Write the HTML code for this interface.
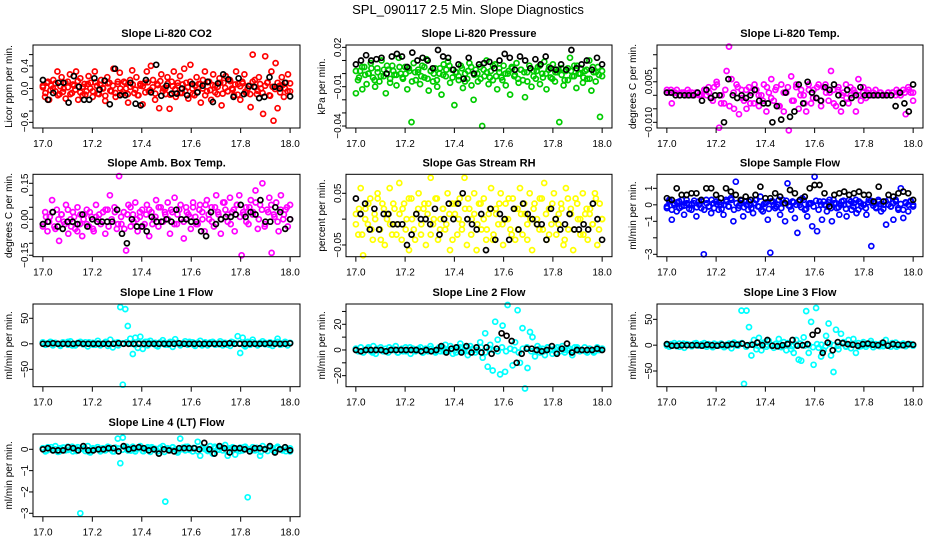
<!DOCTYPE html>
<html><head><meta charset="utf-8"><style>
html,body{margin:0;padding:0;background:#fff;}
svg{display:block;font-family:"Liberation Sans",Arial,sans-serif;}
</style></head><body>
<svg id="chart" width="936" height="540" viewBox="0 0 936 540">
<rect width="936" height="540" fill="#fff"/>
<text x="468" y="14" text-anchor="middle" font-size="13">SPL_090117  2.5 Min. Slope Diagnostics</text>
</svg>
<script>
const xTicks=[17.0,17.2,17.4,17.6,17.8,18.0];
const xTickLabels=["17.0","17.2","17.4","17.6","17.8","18.0"];
const tStart=17.0, tEnd=18.0;

const co2Vals=[0.02,-0.15,0.1,-0.2,0.05,0.15,-0.05,0.3,-0.1,0.2,0.0,-0.18,0.12,0.25,-0.08,0.05,0.3,-0.2,0.18,-0.12,0.08,-0.05,0.22,0.1,-0.15,0.3,0.05,-0.1,0.15,0.0,-0.22,0.2,0.1,-0.05,0.35,-0.15,0.08,0.28,-0.1,0.12,0.0,-0.25,0.15,0.32,-0.08,0.2,-0.12,0.05,-0.28,0.1,0.3,-0.05,0.4,0.15,-0.2,0.08,-0.35,0.25,0.0,-0.1,0.2,-0.36,0.12,0.3,-0.15,0.05,0.22,-0.08,0.35,0.1,-0.18,0.42,0.0,-0.12,0.2,0.08,-0.25,0.15,0.3,-0.05,0.12,-0.2,0.25,0.05,-0.1,0.18,-0.3,0.1,0.22,-0.05,0.15,0.0,-0.12,0.3,0.08,-0.2,0.12,0.25,-0.08,0.05,-0.33,0.6,0.15,-0.1,0.2,0.0,-0.45,0.57,0.1,-0.12,0.3,-0.57,0.45,-0.35,0.05,0.2,-0.15,0.1,0.25,-0.05];
const co2Band=[0.05,-0.08,0.12,-0.03,0.0,0.09,-0.12,0.04,-0.06,0.1,0.02,-0.1,0.07,-0.02,0.13,-0.07,0.03,-0.11,0.08,0.0,-0.05,0.11,-0.09,0.06,0.01,-0.13,0.09,-0.04,0.05,-0.08,0.12,0.0,-0.06,0.1,-0.1,0.03,0.07,-0.02,-0.12,0.08,0.04,-0.07,0.11,-0.03,0.02,-0.09,0.06,0.13,-0.05,0.0,0.09,-0.11,0.04,-0.01,0.1,-0.08,0.07,-0.04,0.02,0.12,-0.1,0.05,-0.06,0.08,0.0,-0.12,0.11,-0.03,0.06,-0.07,0.03,0.1,-0.09,0.01,-0.05,0.13,-0.02,0.07,-0.11,0.04,0.09,-0.06,0.0,-0.1,0.12,0.02,-0.04,0.08,-0.08,0.05,0.11,-0.13,0.03,-0.01,0.1,-0.07,0.06,0.0,-0.05,0.09];
const co2Black=[0.15,-0.2,-0.08,0.1,0.1,-0.25,0.22,0.03,-0.2,-0.2,0.18,-0.02,0.14,-0.28,0.35,-0.12,-0.12,0.1,-0.27,-0.3,0.15,-0.07,0.42,-0.13,0.05,-0.09,-0.09,0.0,-0.12,0.08,-0.07,0.05,0.12,-0.24,0.09,0.25,0.16,-0.15,0.18,-0.1,0.04,0.03,-0.17,-0.15,0.2,0.03,0.0,0.1,-0.14];
const presVals=[-0.015,-0.005,0.002,-0.012,0.005,-0.008,0.0,0.008,-0.003,-0.01,0.004,-0.006,0.01,-0.002,-0.015,0.003,-0.007,0.006,-0.001,-0.009,0.012,0.0,-0.004,0.005,-0.012,0.002,-0.037,0.008,-0.005,0.001,-0.008,0.006,-0.003,0.011,-0.013,0.002,-0.006,0.004,-0.01,0.0,-0.016,0.007,-0.002,0.009,-0.007,0.003,-0.024,0.001,-0.005,0.006,-0.011,0.0,-0.004,0.008,-0.009,-0.02,0.003,-0.006,0.005,-0.04,-0.002,0.01,-0.008,0.002,-0.005,0.007,-0.012,0.001,-0.003,0.006,-0.009,0.0,-0.016,0.004,-0.002,0.008,-0.007,0.003,-0.005,-0.018,0.001,0.006,-0.01,0.002,-0.004,0.005,-0.008,0.0,0.009,-0.012,0.003,-0.003,0.007,-0.006,0.001,-0.037,0.004,-0.009,0.002,-0.005,0.012,-0.002,0.006,-0.011,0.0,0.004,-0.007,0.002,-0.004,0.01,-0.013,0.001,-0.006,0.005,-0.033,-0.002];
const presBand=[0.002,-0.003,0.005,-0.001,0.0,0.004,-0.005,0.001,-0.002,0.003,0.006,-0.004,0.002,-0.001,0.005,-0.003,0.0,0.004,-0.006,0.001,0.003,-0.002,0.005,-0.004,0.002,0.0,-0.005,0.004,-0.001,0.003,0.006,-0.003,0.001,-0.002,0.004,-0.006,0.002,0.005,-0.001,0.0,-0.004,0.003,0.001,-0.003,0.006,-0.002,0.004,-0.005,0.0,0.002,0.005,-0.001,-0.004,0.003,0.001,-0.006,0.004,-0.002,0.002,0.006,-0.003,0.0,0.005,-0.004,0.001,0.003,-0.001,-0.005,0.004,0.002,-0.002,0.006,0.0,-0.003,0.003,-0.004,0.005,0.001,-0.001,0.002];
const presBlack=[0.007,0.01,0.014,0.01,0.011,0.012,0.0,0.013,0.015,0.013,0.005,0.016,0.01,0.012,0.01,0.004,0.018,0.013,0.012,0.003,0.007,-0.004,0.012,0.0,0.007,0.008,0.009,0.004,0.01,0.015,0.012,0.003,0.013,0.01,0.004,0.011,0.007,0.013,0.004,0.003,0.007,0.003,0.018,0.004,0.007,0.01,0.003,0.012,0.007];
const tempVals=[0.002,0.001,-0.003,0.001,0.002,0.0,0.001,0.001,0.0,0.001,0.0,0.0,0.001,0.0,0.0,0.002,0.0,0.001,-0.001,0.003,0.005,-0.012,0.0,-0.003,0.009,0.018,0.006,-0.005,0.004,-0.007,0.002,-0.002,-0.005,0.003,0.001,-0.003,0.002,-0.004,0.0,0.004,-0.006,0.001,0.006,-0.002,0.003,-0.004,0.004,-0.006,0.001,-0.013,0.007,-0.002,0.003,-0.005,0.002,0.0,-0.006,0.004,-0.003,0.002,-0.001,0.004,-0.004,0.003,0.001,-0.002,0.009,0.002,-0.004,0.003,-0.006,0.001,0.004,-0.003,0.0,0.002,-0.006,0.006,-0.002,0.003,-0.001,0.002,0.0,0.001,0.0,0.0,0.001,0.0,0.0,0.001,0.0,0.001,0.0,0.001,0.0,0.002,-0.007,0.003,0.001,-0.002];
const tempBand=[0.001,0.002,0.001,0.0,0.001,0.002,0.001,0.001,0.0,0.002,0.003,-0.002,0.004,-0.003,0.002,-0.004,0.001,0.003,-0.001,0.002,-0.003,0.004,0.0,-0.002,0.003,-0.001,0.002,-0.004,0.001,0.003,-0.002,0.004,0.0,-0.003,0.002,-0.001,0.003,-0.002,0.004,0.001,-0.003,0.002,0.0,-0.001,0.003,0.001,0.0,0.001,0.001,0.0,0.002,0.001,0.0,0.001,0.001,0.002,0.0,0.001,0.002,0.001];
const tempBlack=[0.001,0.001,0.0,0.0,0.0,0.0,0.0,0.001,-0.002,0.002,-0.001,0.0,0.0,-0.01,0.006,0.0,-0.001,0.0,-0.001,0.0,0.002,-0.002,-0.003,-0.003,-0.01,-0.004,-0.009,0.001,-0.008,-0.006,0.004,-0.003,0.005,0.001,-0.001,-0.002,0.003,0.002,0.004,0.0,-0.003,0.002,-0.001,0.0,0.003,0.0,0.0,0.0,0.0,0.0,0.0,0.0,-0.004,0.001,-0.003,-0.006,0.004];
const ambVals=[-0.02,0.03,-0.05,0.01,0.08,-0.03,0.04,-0.09,0.02,-0.01,0.06,-0.06,0.0,0.03,-0.04,0.05,-0.02,-0.07,0.02,0.04,-0.03,0.01,-0.05,0.06,0.0,-0.02,0.03,-0.06,0.04,0.1,-0.01,0.05,-0.04,0.18,-0.02,0.03,-0.13,0.06,-0.03,0.02,0.07,-0.05,0.01,0.04,-0.02,0.06,-0.07,0.03,0.0,0.08,-0.03,0.05,-0.01,0.02,0.07,-0.06,0.03,0.09,-0.02,0.04,0.0,-0.08,0.05,0.02,-0.04,0.07,0.01,-0.02,0.06,0.03,-0.05,0.08,0.0,0.05,-0.03,0.1,0.02,-0.06,0.07,0.04,-0.01,0.09,0.03,-0.05,0.06,0.1,-0.15,0.02,0.05,-0.02,0.08,0.03,0.12,-0.04,0.06,0.15,-0.03,0.04,0.09,-0.14,0.02,0.07,-0.05,0.1,0.0,0.04,-0.03,0.06];
const ambBand=[-0.03,0.01,-0.01,0.03,-0.04,0.0,0.02,-0.02,0.04,-0.03,0.01,-0.05,0.02,0.0,-0.02,0.03,-0.04,0.01,0.02,-0.01,0.04,-0.03,0.0,0.03,-0.02,0.01,-0.04,0.02,0.05,-0.01,0.0,0.03,-0.03,0.02,0.04,-0.02,0.01,0.05,-0.01,0.03,0.0,0.04,-0.02,0.02,0.06,-0.01,0.03,0.01,0.05,-0.02,0.04,0.0,0.06,0.02,-0.01,0.05,0.03,0.0,0.07,0.02,-0.02,0.04,0.06,0.01,0.03,-0.01,0.05,0.02,0.07,0.0,0.04,-0.02,0.03,0.06,0.01,-0.01,0.04,0.02,0.05,0.0];
const ambBlack=[-0.02,-0.01,0.03,-0.03,-0.04,-0.01,-0.01,-0.02,0.02,-0.03,0.0,-0.01,-0.01,-0.01,-0.01,0.04,-0.06,-0.1,0.0,-0.03,-0.03,-0.05,0.01,-0.01,-0.01,0.0,-0.01,0.04,0.0,0.0,-0.01,-0.01,-0.05,-0.07,0.03,-0.02,0.0,0.01,0.01,0.02,0.06,0.01,0.03,0.02,0.08,-0.01,-0.01,0.05,0.03,-0.04,0.0];
const rhVals=[0.01,-0.03,0.06,-0.07,0.02,-0.01,0.04,-0.04,0.0,0.05,-0.02,0.03,-0.05,0.01,0.06,-0.03,0.02,-0.01,0.07,-0.04,0.03,0.0,-0.06,0.04,-0.02,0.01,0.05,-0.03,0.02,-0.05,0.03,0.08,-0.01,0.04,-0.04,0.0,0.02,-0.02,0.05,-0.06,0.03,0.01,-0.03,0.04,-0.01,0.08,-0.05,0.02,0.0,0.05,-0.06,0.03,-0.02,0.04,-0.04,0.01,0.06,-0.03,0.02,-0.01,0.05,-0.05,0.03,0.0,-0.02,0.04,-0.04,0.02,0.06,-0.03,0.01,-0.01,0.05,-0.06,0.03,0.0,-0.02,0.04,0.07,-0.04,0.02,-0.01,0.05,-0.03,0.01,0.03,-0.05,0.06,-0.02,0.02,-0.06,0.04,0.0,-0.03,0.05,0.01,-0.04,0.02,-0.01,0.05,-0.05,0.03,0.0];
const rhBand=[-0.01,0.02,-0.03,0.0,0.03,-0.02,0.01,0.04,-0.04,0.02,0.0,-0.01,0.03,-0.03,0.01,0.02,-0.02,0.04,0.0,-0.04,0.02,-0.01,0.03,0.01,-0.03,0.0,0.04,-0.02,0.02,-0.01,0.01,-0.04,0.03,0.0,-0.02,0.02,0.04,-0.03,0.01,-0.01,0.03,0.0,-0.02,0.02,-0.04,0.01,0.03,-0.01,0.0,0.04,-0.03,0.02,-0.02,0.01,0.03,-0.04,0.0,0.02,-0.01,0.04,-0.02,0.01,-0.03,0.03,0.0,-0.01,0.02,-0.04,0.04,0.01,-0.02,0.03,0.0,-0.03,0.02,0.01,-0.01,0.04,-0.02,0.0];
const rhBlack=[0.04,0.01,0.03,-0.02,0.02,-0.02,0.01,0.01,-0.01,-0.01,-0.01,-0.05,-0.03,0.01,0.0,0.0,-0.01,0.02,-0.03,0.0,0.03,0.0,0.03,0.05,0.0,-0.01,-0.02,0.01,-0.06,0.02,-0.04,0.01,0.0,-0.04,0.02,-0.02,0.03,0.01,0.0,-0.01,-0.01,-0.04,0.02,0.0,-0.02,-0.01,0.01,-0.02,-0.02,-0.01,-0.02,0.03,0.0,-0.04];
const sflowVals=[-0.2,0.3,-0.9,0.1,-0.4,0.2,-0.1,-0.6,0.3,0.0,-0.3,0.1,-0.7,0.2,-0.2,-3.0,0.3,-0.1,-0.5,0.1,0.2,-0.3,0.0,-0.6,0.3,-0.1,0.4,-1.0,1.4,-0.2,0.1,-0.7,0.2,-0.3,0.0,-0.5,0.3,-0.1,0.5,-0.4,0.1,-0.9,-2.9,0.2,-0.2,0.0,-0.6,0.3,-1.0,1.3,-0.1,0.2,-0.8,-1.7,0.0,0.4,-0.3,-0.7,0.1,-1.3,1.7,-1.6,0.2,-0.9,0.0,-0.4,0.3,-1.0,0.1,-0.2,-0.6,0.2,0.0,-0.7,0.3,-0.3,0.1,-0.5,0.2,-0.1,0.0,-0.6,0.3,-2.5,0.1,-0.2,0.2,-0.4,0.0,-1.2,0.3,-0.1,-0.9,0.2,-0.3,1.0,-0.8,0.1,-0.4,0.2,0.0];
const sflowBand=[-0.1,0.2,-0.3,0.0,0.15,-0.2,0.3,-0.05,0.1,-0.25,0.05,0.25,-0.15,0.0,0.2,-0.3,0.1,-0.1,0.3,-0.2,0.05,0.15,-0.25,0.0,0.2,-0.1,0.3,-0.3,0.1,-0.05,0.25,-0.15,0.0,0.2,-0.2,0.1,0.3,-0.1,-0.3,0.05,0.15,-0.25,0.2,0.0,-0.1,0.3,-0.2,0.1,0.25,-0.05,-0.3,0.15,0.0,0.2,-0.15,0.3,-0.25,0.05,0.1,-0.1,0.25,-0.3,0.0,0.2,-0.05,0.15,-0.2,0.3,0.1,-0.15,0.0,0.25,-0.25,0.05,0.2,-0.1,0.3,-0.3,0.1,0.0,-0.2,0.15,0.25,-0.05,-0.15,0.3,0.05,-0.25,0.2,0.0,-0.1,0.1,0.3,-0.2,0.05,-0.3,0.15,0.0,0.25,-0.1];
const sflowBlack=[0.4,0.3,1.0,0.6,0.6,0.7,0.7,0.3,1.0,1.0,0.6,0.4,1.0,0.8,0.6,0.3,0.5,0.3,0.6,1.1,0.4,0.4,0.7,0.5,0.1,0.9,0.7,0.3,0.5,1.0,1.2,1.2,0.7,-0.1,0.6,0.7,0.8,0.6,0.7,0.8,0.6,0.6,0.2,1.1,0.2,0.6,0.5,0.7,0.8,0.7,0.3];
const l1Vals=[3,-2,1,4,-3,2,0,-4,3,1,-2,5,0,-3,2,4,-1,3,-5,1,2,-2,6,-3,0,2,-4,8,-7,1,3,72,-80,68,35,10,-20,12,-8,14,-10,4,-3,6,0,2,-5,3,7,-2,1,4,-6,9,2,-3,1,5,-2,0,3,-4,2,6,-1,3,-3,0,4,-2,1,5,-3,2,0,-4,3,1,15,-18,12,-5,4,-2,8,1,-3,2,5,-1,0,3,-4,2,10,-2,1,4,-3,2];
const l1Band=[2,-1,3,0,-2,1,4,-3,0,2,-1,3,-2,1,0,4,-1,2,-3,1,3,0,-2,2,-1,4,1,-3,0,2,-2,3,1,-1,0,4,-2,2,-3,1,3,0,-1,2,-2,4,0,1,-3,2,3,-1,0,2,-2,1,4,-1,0,2];
const l1Black=[0,0,1,0,0,0,0,1,0,0,0,0,0,0,0,1,0,0,0,0,0,0,0,0,0,0,0,1,0,0,0,0,0,0,0,0,0,1,0,0,0,0,0,0,0,1,0,0,0,1];
const l2Vals=[1,-1,2,-2,0,1,-1,3,-3,0,2,-1,1,-2,0,1,3,-2,0,-1,2,0,-3,1,-1,0,2,-2,1,-1,3,0,-2,1,-1,2,4,-1,3,-3,0,2,5,-1,2,-4,3,1,-2,0,6,-6,13,-13,4,-16,22,8,-19,19,-17,35,1,-12,6,31,-10,17,-30,-14,14,10,-5,3,-2,1,-4,2,0,-3,1,2,-1,3,-2,0,1,-4,2,1,-1,0,2,-2,1,0,-1,2,0,1];
const l2Band=[1,-1,0,2,-2,1,0,-1,2,0,-2,1,-1,2,0,1,-2,0,1,-1,2,-1,0,1,-2,2,0,-1,1,0,2,-2,1,0,-1,2,-1,1,0,-2,1,2,-1,0,1,-1,2,0,-2,1,0,1,-1,2,0,-1,1,-2,0,1];
const l2Black=[0,-1,0,0,0,0,-1,0,0,0,0,0,0,-1,0,-1,0,3,-2,1,2,-2,3,-2,2,-2,2,-3,1,13,11,7,-10,-3,1,1,0,-1,0,3,-3,1,5,-2,0,0,0,0,1,0];
const l3Vals=[2,-3,1,4,-2,3,0,-5,2,1,-2,3,0,-1,2,4,-3,1,-2,3,0,-1,2,-4,1,3,-6,5,0,2,67,-75,67,35,-20,10,-8,14,-10,5,-3,8,0,-5,3,12,-4,6,-10,2,-8,-15,10,-28,-30,15,66,-15,45,-38,72,-5,-22,-10,18,42,-20,-52,30,-8,22,6,-3,10,-6,12,-15,4,-2,6,-3,1,8,-4,2,0,3,-2,10,1,-3,2,5,-1,0,3,-2,1,2,-1];
const l3Band=[-1,2,0,-3,3,1,-2,4,0,-1,2,-4,1,3,-2,0,2,-1,4,-3,1,0,-2,3,1,-1,2,-3,0,4,-2,1,3,-1,0,-4,2,1,-2,3,0,-1,4,-2,1,2,-3,0,1,3,-1,-2,2,0,4,-3,1,-1,2,0];
const l3Black=[2,-1,-1,0,0,0,0,-1,1,0,-1,1,0,2,1,3,0,1,5,0,10,-1,-2,0,2,10,-1,0,2,20,28,-15,5,-10,6,4,2,1,-1,2,3,1,0,5,-1,2,1,0,2,1];
const l4Vals=[0.05,-0.1,0.1,0.0,-0.05,0.15,-0.12,0.05,0.08,-0.05,0.12,0.0,-0.1,0.05,0.1,-3.0,0.02,-0.08,0.15,-0.15,0.05,0.0,0.1,-0.1,0.05,-0.05,0.12,0.0,-0.1,0.08,0.5,-0.65,0.55,0.1,-0.05,0.0,0.12,-0.1,0.05,0.15,-0.08,0.0,0.1,-0.12,0.05,0.02,-0.1,0.08,0.15,-2.45,0.05,-0.05,0.1,0.0,-0.15,0.5,0.08,-0.05,0.12,0.0,-0.1,0.05,0.35,-0.3,0.1,0.0,-0.08,0.15,-0.2,0.05,0.0,0.1,-0.05,0.2,-0.3,0.05,0.1,-0.25,0.0,0.08,-0.05,0.12,-2.25,0.0,0.1,-0.05,0.05,-0.3,0.15,0.0,-0.08,0.1,0.05,-0.1,0.12,0.0,-0.05,0.08,0.02,-0.1];
const l4Band=[0.05,-0.05,0.1,0.0,-0.1,0.08,-0.03,0.12,-0.08,0.02,0.06,-0.12,0.03,0.1,-0.05,0.0,0.08,-0.1,0.04,-0.02,0.12,-0.06,0.0,0.07,-0.09,0.03,0.1,-0.04,0.05,-0.12,0.02,0.09,-0.07,0.0,0.11,-0.03,0.06,-0.1,0.04,0.0,-0.06,0.12,-0.02,0.08,-0.11,0.03,0.05,-0.08,0.1,0.0,-0.04,0.07,-0.12,0.02,0.09,-0.05,0.06,0.0,-0.09,0.04];
const l4Black=[0.0,0.05,-0.05,-0.05,-0.05,0.1,0.05,-0.05,0.15,-0.05,-0.05,0.0,0.0,0.05,0.05,-0.1,0.15,0.0,0.05,0.1,0.05,-0.05,0.0,-0.2,0.0,-0.05,-0.1,0.05,0.05,0.05,0.05,0.0,0.3,0.0,-0.2,0.15,0.05,-0.15,0.05,0.05,0.0,-0.1,0.05,0.05,0.0,0.15,-0.15,0.0,0.1,-0.05];

const panels=[
 {name:"co2",title:"Slope Li-820 CO2",ylab:"Licor ppm per min.",col:0,row:0,color:"#ff0000",vals:co2Vals,band:co2Band,black:co2Black,ylim:[-0.70,0.77],ticks:[-0.6,-0.4,-0.2,0,0.2,0.4,0.6],labels:{"-0.6":"\u22120.6","0":"0.0","0.4":"0.4"}},
 {name:"pressure",title:"Slope Li-820 Pressure",ylab:"kPa per min.",col:1,row:0,color:"#00cc00",vals:presVals,band:presBand,black:presBlack,ylim:[-0.0415,0.0218],ticks:[-0.04,-0.03,-0.02,-0.01,0,0.01,0.02],labels:{"-0.04":"\u22120.04","-0.01":"\u22120.01","0.02":"0.02"}},
 {name:"li820-temp",title:"Slope Li-820 Temp.",ylab:"degrees C per min.",col:2,row:0,color:"#ff00ff",vals:tempVals,band:tempBand,black:tempBlack,ylim:[-0.0121,0.0186],ticks:[-0.01,-0.005,0,0.005,0.01,0.015],labels:{"-0.01":"\u22120.010","0.005":"0.005"}},
 {name:"amb-box-temp",title:"Slope Amb. Box Temp.",ylab:"degrees C per min.",col:0,row:1,color:"#ff00ff",vals:ambVals,band:ambBand,black:ambBlack,ylim:[-0.156,0.1875],ticks:[-0.15,-0.1,-0.05,0,0.05,0.1,0.15],labels:{"-0.15":"\u22120.15","0":"0.00","0.15":"0.15"}},
 {name:"gas-stream-rh",title:"Slope Gas Stream RH",ylab:"percent per min.",col:1,row:1,color:"#ffff00",vals:rhVals,band:rhBand,black:rhBlack,ylim:[-0.0727,0.0868],ticks:[-0.05,0,0.05],labels:{"-0.05":"\u22120.05","0.05":"0.05"}},
 {name:"sample-flow",title:"Slope Sample Flow",ylab:"ml/min per min.",col:2,row:1,color:"#0000ff",vals:sflowVals,band:sflowBand,black:sflowBlack,ylim:[-3.145,1.85],ticks:[-3,-2,-1,0,1],labels:{"-3":"\u22123","-1":"\u22121","0":"0","1":"1"}},
 {name:"line1-flow",title:"Slope Line 1 Flow",ylab:"ml/min per min.",col:0,row:2,color:"#00ffff",vals:l1Vals,band:l1Band,black:l1Black,ylim:[-84,78],ticks:[-50,0,50],labels:{"-50":"\u221250","0":"0","50":"50"}},
 {name:"line2-flow",title:"Slope Line 2 Flow",ylab:"ml/min per min.",col:1,row:2,color:"#00ffff",vals:l2Vals,band:l2Band,black:l2Black,ylim:[-28.6,35.8],ticks:[-20,-10,0,10,20,30],labels:{"-20":"\u221220","0":"0","20":"20"}},
 {name:"line3-flow",title:"Slope Line 3 Flow",ylab:"ml/min per min.",col:2,row:2,color:"#00ffff",vals:l3Vals,band:l3Band,black:l3Black,ylim:[-80.4,79.7],ticks:[-50,0,50],labels:{"-50":"\u221250","0":"0","50":"50"}},
 {name:"line4-flow",title:"Slope Line 4 (LT) Flow",ylab:"ml/min per min.",col:0,row:3,color:"#00ffff",vals:l4Vals,band:l4Band,black:l4Black,ylim:[-3.16,0.717],ticks:[-3,-2,-1,0],labels:{"-3":"\u22123","-2":"\u22122","-1":"\u22121","0":"0"}}
];
const colBox=[[33,300],[346,612],[657,923]];
const rowBox=[[45,128],[174.3,256.7],[304,386.7],[434,516.7]];
const NS="http://www.w3.org/2000/svg";
const svg=document.getElementById('chart');
function mk(tag,attrs,parent){const e=document.createElementNS(NS,tag);for(const k in attrs)e.setAttribute(k,attrs[k]);(parent||svg).appendChild(e);return e;}

panels.forEach(p=>{
  const [L,R]=colBox[p.col],[T,B]=rowBox[p.row];
  const x0=L+(R-L)*0.04/1.08, x1=R-(R-L)*0.04/1.08;
  const xs=v=>x0+(v-tStart)/(tEnd-tStart)*(x1-x0);
  const ys=v=>B-(v-p.ylim[0])/(p.ylim[1]-p.ylim[0])*(B-T);
  const g=mk('g',{});
  
  
  const title=mk('text',{x:(L+R)/2,y:T-8,'text-anchor':'middle','font-size':'11','font-weight':'bold'},g);
  
  
  title.textContent=p.title;
  const ylab=mk('text',{transform:`translate(${L-21},${(T+B)/2}) rotate(-90)`,'text-anchor':'middle','font-size':'10'},g);
  
  
  ylab.textContent=p.ylab;
  const pts=mk('g',{},g);
  
  
  const drawSeries=(arr,color,nm)=>{
    const n=arr.length;
    arr.forEach((v,i)=>{
      const t=tStart+(tEnd-tStart)*i/(n-1);
      const c=mk('circle',{cx:xs(t).toFixed(1),cy:ys(v).toFixed(1),r:2.5,fill:'none',stroke:color,'stroke-width':1.7},pts);
      
      
    });
  };
  drawSeries(p.band,p.color,'point-colored-band');
  drawSeries(p.vals,p.color,'point-colored');
  drawSeries(p.black,'#000','point-black');
  const box=mk('rect',{x:L,y:T,width:R-L,height:B-T,fill:'none',stroke:'#000','stroke-width':1},g);
  
  
  const xa=mk('g',{},g);
  
  
  xTicks.forEach((v,i)=>{
    mk('line',{x1:xs(v),x2:xs(v),y1:B,y2:B+5,stroke:'#000'},xa);
    const t=mk('text',{x:xs(v),y:B+19,'text-anchor':'middle','font-size':'10'},xa);
    
    
    t.textContent=xTickLabels[i];
  });
  const ya=mk('g',{},g);
  
  
  p.ticks.forEach(v=>{
    mk('line',{x1:L-4,x2:L,y1:ys(v),y2:ys(v),stroke:'#000'},ya);
    const key=String(v);
    if(p.labels[key]!==undefined){
      const t=mk('text',{transform:`translate(${L-5},${ys(v)}) rotate(-90)`,'text-anchor':'middle','font-size':'10'},ya);
      
      
      t.textContent=p.labels[key];
    }
  });
});
</script>
</body></html>
